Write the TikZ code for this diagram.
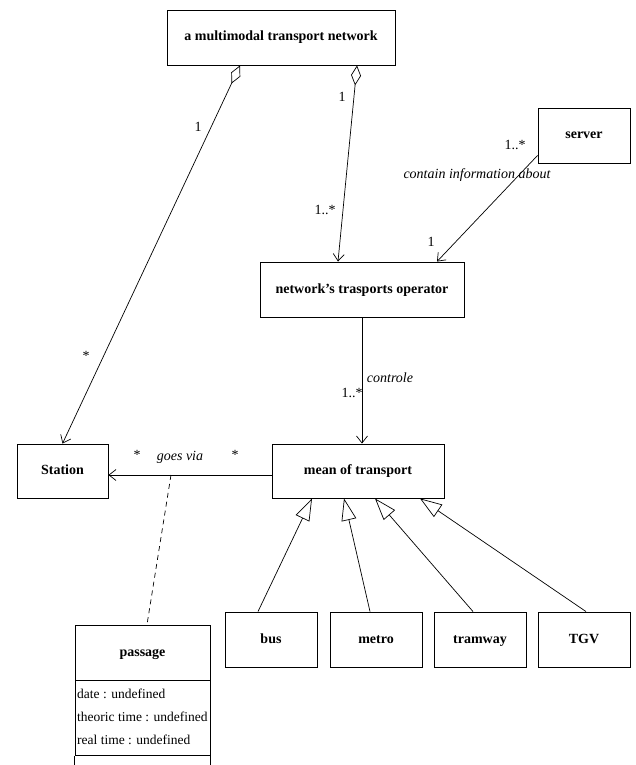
\documentclass[tikz,border=0pt]{standalone}
\usepackage{fontspec}
\setmainfont{Liberation Serif}
\usetikzlibrary{arrows.meta}
\begin{document}
\begin{tikzpicture}[x=1pt,y=-1pt,
  cls/.style={draw,line width=0.9pt,font=\fontsize{14}{16}\selectfont\bfseries,inner sep=2pt,text height=10pt,text depth=3pt},
  lbl/.style={font=\fontsize{14}{16}\selectfont,inner sep=0pt},
  ilbl/.style={font=\fontsize{14}{16}\selectfont\itshape,inner sep=0pt},
  attr/.style={font=\fontsize{13.5}{16}\selectfont,inner sep=0pt,anchor=base west},
  conn/.style={line width=0.7pt},
  nav/.style={conn,-{Straight Barb[length=7pt,width=11pt]}},
  agg/.style={conn,{Diamond[open,length=20pt,width=10pt,fill=white]}-{Straight Barb[length=7pt,width=11pt]}},
  gen/.style={conn,-{Triangle[open,length=22pt,width=15pt,fill=white]}}]
\fill[white] (0,0) rectangle (635,765);
\useasboundingbox (0,0) rectangle (635,765);

% classes
\node[cls,minimum width=228pt,minimum height=55pt] (net) at (281,37.5) {a multimodal transport network};
\node[cls,minimum width=92pt,minimum height=55pt] (server) at (584,135.5) {server};
\node[cls,minimum width=204pt,minimum height=55pt] (op) at (362,289.5) {network's trasports operator};
\node[cls,minimum width=91pt,minimum height=54pt] (station) at (62.5,471) {Station};
\node[cls,minimum width=172pt,minimum height=54pt] (mean) at (358,471) {mean of transport};
\node[cls,minimum width=92pt,minimum height=55pt] (bus) at (271,639.5) {bus};
\node[cls,minimum width=92pt,minimum height=55pt] (metro) at (376,639.5) {metro};
\node[cls,minimum width=92pt,minimum height=55pt] (tram) at (480,639.5) {tramway};
\node[cls,minimum width=92pt,minimum height=55pt] (tgv) at (584,639.5) {TGV};

% passage class
\node[cls,minimum width=135pt,minimum height=55pt] (passage) at (142.5,652.5) {passage};
\node[draw,line width=0.9pt,minimum width=135pt,minimum height=75pt,anchor=north,inner sep=0pt] (pattr) at (passage.south) {};
\draw[line width=0.9pt] (pattr.south west) -- ++(0,20);
\draw[line width=0.9pt] (pattr.south east) -- ++(0,20);
\node[attr] (a1) at (77,698) {date : undefined};
\node[attr] (a2) at (77,721) {theoric time : undefined};
\node[attr] (a3) at (77,744) {real time : undefined};

% associations
\draw[agg] ([xshift=-41pt]net.south) -- (station.north);
\draw[agg] ([xshift=76pt]net.south) -- ([xshift=-24pt]op.north);
\draw[nav] ([yshift=8pt]server.south west) -- ([xshift=75pt]op.north);
\draw[nav] (op.south) -- (op.south |- mean.north);
\draw[nav] ([yshift=-4pt]mean.west) -- ([yshift=-4pt]mean.west -| station.east);
\coordinate (gv) at (171,475);
\draw[conn,dashed,dash pattern=on 5pt off 4pt] (gv) -- ([xshift=4.5pt]passage.north);

% generalizations
\draw[gen] ([xshift=-13pt]bus.north) -- ([xshift=-46pt]mean.south);
\draw[gen] ([xshift=-6pt]metro.north) -- ([xshift=-14pt]mean.south);
\draw[gen] ([xshift=-7pt]tram.north) -- ([xshift=17pt]mean.south);
\draw[gen] ([xshift=2pt]tgv.north) -- ([xshift=62pt]mean.south);

% labels
\node[lbl] (l1) at (198,127) {1};
\node[lbl] (l2) at (86,356) {*};
\node[lbl] (l3) at (342,97) {1};
\node[lbl] (l4) at (325,210) {1..*};
\node[lbl] (l5) at (515,145) {1..*};
\node[ilbl] (l6) at (477,175) {contain information about};
\node[lbl] (l7) at (431,242) {1};
\node[ilbl] (l8) at (390,378) {controle};
\node[lbl] (l9) at (352,393) {1..*};
\node[lbl] (l10) at (137,455) {*};
\node[ilbl] (l11) at (180,457) {goes via};
\node[lbl] (l12) at (235,455) {*};
\end{tikzpicture}
\end{document}
